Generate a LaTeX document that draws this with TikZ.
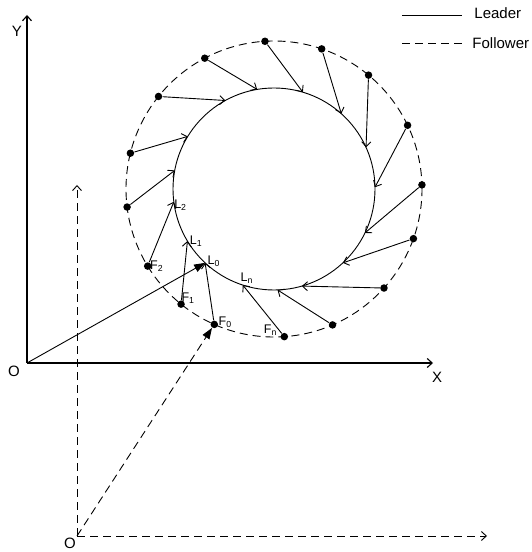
\documentclass[tikz,border=0pt]{standalone}
\usepackage{fontspec}
\setmainfont{Liberation Sans}
\usetikzlibrary{arrows.meta}

\tikzset{
  open/.style={-{Straight Barb[length=5pt,width=9pt]}},
  solidhead/.style={-{Triangle[length=11pt,width=8pt]}},
  flw/.style={dash pattern=on 8pt off 5pt},
  dot/.style={circle,fill,inner sep=0pt,minimum size=7.5pt},
  lbl/.style={font=\fontsize{12.5}{14}\selectfont,inner sep=1pt},
  axlbl/.style={font=\fontsize{15}{17}\selectfont,inner sep=0pt},
}

\begin{document}
\begin{tikzpicture}[x=1pt,y=1pt,line width=0.9pt]
        \useasboundingbox (0,0) rectangle (532,552);

        % leader frame and follower frame
                \coordinate (o) at (27,189);
                \coordinate (ytip) at (27,537);
                \coordinate (xtip) at (433,189);
                \coordinate (o2) at (77,16);
                \coordinate (ytip2) at (77,367);
                \coordinate (xtip2) at (487,16);

                \draw[open,line width=1.1pt] (o) -- (ytip);
                \draw[open,line width=1.1pt] (o) -- (xtip);
                \draw[open,flw] (o2) -- (ytip2);
                \draw[open,flw] (o2) -- (xtip2);

                \node[axlbl] (ylab) at (17,521) {Y};
                \node[axlbl] (olab) at (14,181) {O};
                \node[axlbl] (xlab) at (437,175) {X};
                \node[axlbl] (o2lab) at (70,9) {O};

        % the two circles
                \coordinate (c) at (274,363);
                \draw (c) circle (101pt);
                \draw[flw] (c) circle (148pt);

        % followers and leaders
                \foreach \n/\fa/\la in {0/246.2/227, 1/231.1/211, 2/211.4/187.3,
                    3/187/169.4, 4/166/148.6, 5/141.3/118.8, 6/117.9/99.6,
                    7/93.5/73.4, 8/71.2/48.2, 9/50.3/24.3, 10/25.5/1,
                    11/1.6/-25.8, 12/-19.6/-47, 13/-42/-74, 14/-66.7/-88,
                    15/-86/-108} {
                    \coordinate (l\n) at ([shift={(\la:101)}]c);
                    \node[dot] (f\n) at ([shift={(\fa:148)}]c) {};
                    \draw[open] (f\n) -- (l\n);
                }

        % position vectors
                \draw[solidhead] (o) -- (l0);
                \draw[solidhead,flw] (o2) -- (f0);

        % labels
                \node[lbl,anchor=west] (l2lab) at ([xshift=-1pt,yshift=-3pt]l2) {L\textsubscript{2}};
                \node[lbl,anchor=west] (l1lab) at ([xshift=1pt]l1) {L\textsubscript{1}};
                \node[lbl,anchor=west] (l0lab) at ([xshift=1pt,yshift=2pt]l0) {L\textsubscript{0}};
                \node[lbl,anchor=south] (lnlab) at ([xshift=4pt,yshift=0pt]l15) {L\textsubscript{n}};
                \node[lbl,anchor=west] (f2lab) at ([xshift=1pt]f2) {F\textsubscript{2}};
                \node[lbl,anchor=south west] (f1lab) at ([xshift=-1pt,yshift=-1pt]f1) {F\textsubscript{1}};
                \node[lbl,anchor=south west] (f0lab) at ([xshift=3pt,yshift=-5pt]f0) {F\textsubscript{0}};
                \node[lbl,anchor=south east] (fnlab) at ([xshift=-6pt,yshift=0pt]f15) {F\textsubscript{n}};

        % legend
                \coordinate (lega) at (402,537);
                \coordinate (legb) at (462,537);
                \coordinate (legc) at (402,509);
                \coordinate (legd) at (462,509);
                \draw (lega) -- (legb);
                \draw[flw] (legc) -- (legd);
                \node[axlbl,anchor=west] (leader) at (474,539) {Leader};
                \node[axlbl,anchor=west] (follower) at (472,509) {Follower};

            \end{tikzpicture}
\end{document}
